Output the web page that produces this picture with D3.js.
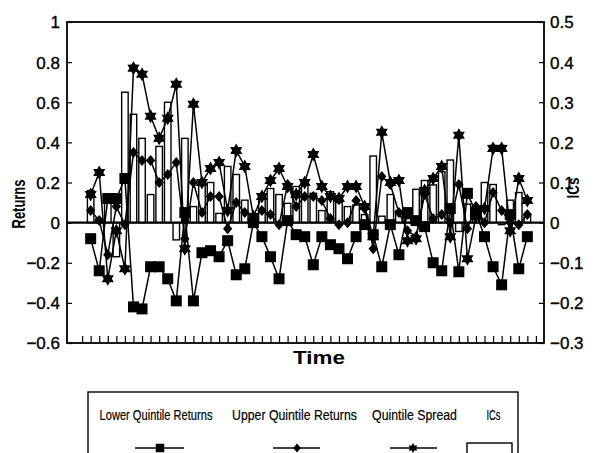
<!DOCTYPE html>
<html>
<head>
<meta charset="utf-8">
<script src="https://cdn.jsdelivr.net/npm/d3@7"></script>
<style>
body{margin:0;background:#fff}
svg{display:block}
text{font-family:"Liberation Sans",Arial,sans-serif;fill:#000}
</style>
</head>
<body>
<svg width="598" height="453"></svg>
<script>
// ===== DATA =====
// periods 1..52 sit on ticks 1..52 (ticks 0 and 53 are empty)
const periods = [1,2,3,4,5,6,7,8,9,10,11,12,13,14,15,16,17,18,19,20,21,22,23,24,25,26,
  27,28,29,30,31,32,33,34,35,36,37,38,39,40,41,42,43,44,45,46,47,48,49,50,51,52]

const lowerReturns = [-0.08,-0.24,0.12,0.12,0.22,-0.42,-0.43,-0.22,-0.22,-0.28,-0.39,0.05,-0.39,
  -0.15,-0.14,-0.17,-0.09,-0.26,-0.23,0.00,-0.07,-0.17,-0.28,0.01,-0.06,-0.07,-0.21,-0.07,-0.11,
  -0.13,-0.18,-0.07,-0.01,-0.06,-0.22,-0.01,-0.16,0.05,0.01,-0.02,-0.20,-0.24,0.07,-0.245,0.146,
  0.05,-0.07,-0.22,-0.31,0.04,-0.23,-0.07]

const upperReturns = [0.06,0.01,-0.16,0.08,-0.01,0.35,0.31,0.31,0.20,0.24,0.30,-0.08,0.20,
  0.05,0.13,0.13,-0.03,0.10,0.05,0.03,0.06,0.04,-0.01,0.19,0.08,0.13,0.13,0.11,0.02,
  -0.01,0.00,0.11,0.07,-0.13,0.23,0.19,0.05,-0.04,-0.07,0.14,0.02,0.04,0.00,0.19,-0.03,
  0.08,0.00,0.15,0.06,0.00,-0.01,0.04]

const quintileSpread = [0.14,0.25,-0.28,-0.04,-0.23,0.77,0.74,0.53,0.42,0.52,0.69,-0.13,0.59,
  0.20,0.27,0.30,0.06,0.36,0.28,0.03,0.13,0.21,0.27,0.18,0.14,0.20,0.34,0.18,0.13,
  0.12,0.18,0.18,0.08,-0.07,0.45,0.20,0.21,-0.09,-0.08,0.16,0.22,0.28,-0.07,0.435,-0.18,
  0.03,0.07,0.37,0.37,-0.04,0.22,0.11]

const ics = [0.08,0.01,0.06,-0.085,0.325,0.27,0.21,0.07,0.19,0.30,-0.043,0.21,0.04,
  0.10,0.10,0.023,0.14,0.12,0.056,0.02,0.07,0.085,0.07,0.048,0.09,0.105,0.073,0.03,0.077,
  0.05,0.04,0.044,0.02,0.166,0.016,0.07,0.03,0.01,0.083,0.105,0.094,0.127,0.156,-0.022,0.046,
  0.04,0.10,0.095,-0.005,0.056,0.075,0.02]

const leftTicks = [1,0.8,0.6,0.4,0.2,0,-0.2,-0.4,-0.6]
const rightTicks = [0.5,0.4,0.3,0.2,0.1,0,-0.1,-0.2,-0.3]
const legendLabels = ["Lower Quintile Returns","Upper Quintile Returns","Quintile Spread","ICs"]

// ===== SETUP =====
const svg = d3.select("svg")
const L = 67, R = 544, T = 22, B = 343

const x = d3.scaleLinear().domain([0,53]).range([82.1,535.9])
const yL = d3.scaleLinear().domain([-0.6,1]).range([B,T])
const yR = d3.scaleLinear().domain([-0.3,0.5]).range([B,T])

const rows = periods.map((p,i)=>({
  p, lower:lowerReturns[i], upper:upperReturns[i], spread:quintileSpread[i], ic:ics[i]
}))

// marker shapes
function starPath(r){
  const pts = []
  for(let i=0;i<12;i++){
    const a = -Math.PI/2 + i*Math.PI/6
    const rr = i%2 ? r*0.58 : r
    pts.push([ (rr*Math.cos(a)).toFixed(2), (rr*Math.sin(a)).toFixed(2) ])
  }
  return "M"+pts.join("L")+"Z"
}
function diamondPath(r){
  return `M0,${-r}L${r*0.85},0L0,${r}L${-r*0.85},0Z`
}
function squarePath(s){
  return `M${-s/2},${-s/2}h${s}v${s}h${-s}Z`
}

// condensed text: squeeze horizontally to a target width
function narrowText(parent, t, cx, cy, size, width, opts={}){
  const g = parent.append("g")
  const txt = g.append("text")
  .attr("text-anchor","middle")
  .attr("font-size",size)
  .attr("font-weight",opts.bold ? "bold" : "normal")
  .text(t)
  if(opts.stroke) txt.attr("stroke","#000").attr("stroke-width",opts.stroke)
  const w = txt.node().getComputedTextLength()
  const sx = width / w
  g.attr("transform",`translate(${cx},${cy}) rotate(${opts.rotate||0}) scale(${sx},1)`)
  return g
}

// ===== AXES =====
// x ticks, pointing up into the plot
svg.append("g")
.attr("transform",`translate(0,${B})`)
.call(d3.axisBottom(x).tickValues(d3.range(0,54)).tickSize(-7).tickFormat(""))
.call(g=>g.select(".domain").remove())
.selectAll("line").attr("stroke","#000").attr("stroke-width",1.2)

const left = svg.append("g")
.attr("transform",`translate(${L},0)`)
.call(d3.axisLeft(yL).tickValues(leftTicks).tickSize(-5).tickPadding(7).tickFormat(d3.format("")))
left.select(".domain").remove()
left.selectAll("line").attr("stroke","#000").attr("stroke-width",1.2)
left.selectAll("text").attr("font-size",17).attr("dy","0.35em")
  .attr("stroke","#000").attr("stroke-width",0.35)

const right = svg.append("g")
.attr("transform",`translate(${R},0)`)
.call(d3.axisRight(yR).tickValues(rightTicks).tickSize(-5).tickPadding(6).tickFormat(d3.format("")))
right.select(".domain").remove()
right.selectAll("line").attr("stroke","#000").attr("stroke-width",1.2)
right.selectAll("text").attr("font-size",17).attr("dy","0.35em")
  .attr("stroke","#000").attr("stroke-width",0.35)

// ===== BARS (ICs, right axis) =====
const bw = 6.5
svg.append("g").selectAll("rect")
.data(rows)
.enter()
.append("rect")
.attr("x",d=>x(d.p)-bw/2)
.attr("y",d=>Math.min(yR(d.ic),yR(0)))
.attr("width",bw)
.attr("height",d=>Math.abs(yR(d.ic)-yR(0)))
.attr("fill","#fff")
.attr("stroke","#000")
.attr("stroke-width",1.4)

// zero line
svg.append("line")
.attr("x1",L).attr("x2",R)
.attr("y1",yL(0)).attr("y2",yL(0))
.attr("stroke","#000").attr("stroke-width",2.4)

// ===== LINES =====
const series = [
  {key:"lower", shape:squarePath(11)},
  {key:"upper", shape:diamondPath(5.5)},
  {key:"spread", shape:starPath(7)}
]

series.forEach(s=>{
  const line = d3.line().x(d=>x(d.p)).y(d=>yL(d[s.key]))
  svg.append("path")
  .datum(rows)
  .attr("fill","none")
  .attr("stroke","#000")
  .attr("stroke-width",1.5)
  .attr("d",line)

  svg.append("g").selectAll("path")
  .data(rows)
  .enter()
  .append("path")
  .attr("transform",d=>`translate(${x(d.p)},${yL(d[s.key])})`)
  .attr("d",s.shape)
  .attr("fill","#000")
})

// frame
svg.append("rect")
.attr("x",L).attr("y",T)
.attr("width",R-L).attr("height",B-T)
.attr("fill","none").attr("stroke","#000").attr("stroke-width",1.8)

// ===== AXIS TITLES =====
narrowText(svg,"Returns",25,204,18,49,{bold:true,rotate:-90})
narrowText(svg,"ICs",579,188,17,21,{bold:true,rotate:-90})
narrowText(svg,"Time",319,364,18,52,{bold:true})

// ===== LEGEND =====
const legend = svg.append("g")
legend.append("rect")
.attr("x",88).attr("y",392)
.attr("width",430).attr("height",80)
.attr("fill","#fff").attr("stroke","#000").attr("stroke-width",1.4)

const legendX = [156,294.5,414.5,493.5]
const legendW = [113,125,85,14]
legendLabels.forEach((t,i)=>{
  narrowText(legend,t,legendX[i],420,14.5,legendW[i],{stroke:0.2})
})

const my = 448
const legendMarks = [
  {x1:135,x2:184,cx:160,shape:squarePath(8.5)},
  {x1:273,x2:320,cx:297,shape:diamondPath(4.5)},
  {x1:390,x2:437,cx:413,shape:starPath(5)}
]
legendMarks.forEach(m=>{
  legend.append("line")
  .attr("x1",m.x1).attr("x2",m.x2).attr("y1",my).attr("y2",my)
  .attr("stroke","#000").attr("stroke-width",1.6)
  legend.append("path")
  .attr("transform",`translate(${m.cx},${my})`)
  .attr("d",m.shape).attr("fill","#000")
})
legend.append("rect")
.attr("x",467).attr("y",443)
.attr("width",45).attr("height",12)
.attr("fill","#fff").attr("stroke","#000").attr("stroke-width",1.4)
</script>
</body>
</html>
